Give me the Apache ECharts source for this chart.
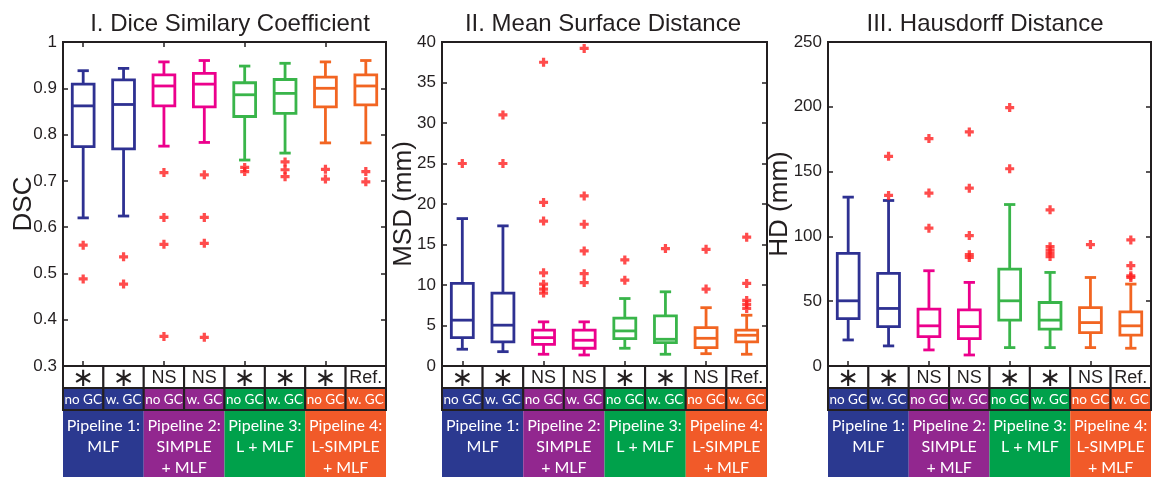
<!DOCTYPE html>
<html>
<head>
<meta charset="utf-8">
<script src="https://cdn.jsdelivr.net/npm/echarts@6/dist/echarts.min.js"></script>
<style>
html, body { margin: 0; padding: 0; background: #fff; }
#chart { width: 1153px; height: 477px; }
</style>
</head>
<body>
<div id="chart"></div>
<script>
// 4 pipelines x (no GC, w. GC)
const categories = ['P1 no GC', 'P1 w. GC', 'P2 no GC', 'P2 w. GC', 'P3 no GC', 'P3 w. GC', 'P4 no GC', 'P4 w. GC']
const gcLabels = ['no GC', 'w. GC', 'no GC', 'w. GC', 'no GC', 'w. GC', 'no GC', 'w. GC']
const pipelineLabels = ['Pipeline 1:\nMLF', 'Pipeline 2:\nSIMPLE\n+ MLF', 'Pipeline 3:\nL + MLF', 'Pipeline 4:\nL-SIMPLE\n+ MLF']

const dscSig = ['∗', '∗', 'NS', 'NS', '∗', '∗', '∗', 'Ref.']
const msdSig = ['∗', '∗', 'NS', 'NS', '∗', '∗', 'NS', 'Ref.']
const hdSig = ['∗', '∗', 'NS', 'NS', '∗', '∗', 'NS', 'Ref.']

// box stats: [lower whisker, Q1, median, Q3, upper whisker]
const dscBoxes = [
  [0.620, 0.774, 0.862, 0.909, 0.938],
  [0.624, 0.769, 0.865, 0.918, 0.943],
  [0.775, 0.862, 0.905, 0.929, 0.957],
  [0.783, 0.860, 0.909, 0.932, 0.960],
  [0.745, 0.839, 0.886, 0.912, 0.948],
  [0.760, 0.846, 0.889, 0.919, 0.954],
  [0.782, 0.860, 0.900, 0.924, 0.957],
  [0.782, 0.864, 0.905, 0.929, 0.960]
]
const dscOutliers = [
  [0.561, 0.488],
  [0.536, 0.477],
  [0.718, 0.621, 0.563, 0.364],
  [0.713, 0.621, 0.565, 0.362],
  [0.729, 0.720],
  [0.741, 0.724, 0.709],
  [0.725, 0.704],
  [0.720, 0.698]
]

const msdBoxes = [
  [2.07, 3.50, 5.66, 10.2, 18.2],
  [1.77, 2.97, 5.04, 9.00, 17.3],
  [1.45, 2.68, 3.50, 4.42, 5.45],
  [1.36, 2.19, 3.18, 4.42, 5.45],
  [2.19, 3.38, 4.33, 5.90, 8.33],
  [1.45, 2.89, 3.30, 6.19, 9.16],
  [1.52, 2.27, 3.42, 4.74, 7.20],
  [1.45, 2.97, 3.80, 4.42, 6.27]
]
const msdOutliers = [
  [25.0],
  [25.0, 31.0],
  [37.5, 20.2, 17.9, 11.5, 10.1, 9.5, 9.0],
  [39.2, 21.0, 17.5, 14.2, 11.4, 10.3],
  [13.1, 10.6],
  [14.5],
  [14.4, 9.5],
  [15.9, 10.2, 8.1, 7.6, 7.1]
]

const hdBoxes = [
  [20.1, 36.6, 50.3, 86.9, 130.3],
  [15.5, 30.4, 44.4, 71.4, 127.7],
  [12.4, 22.7, 31.0, 43.9, 73.5],
  [8.5, 21.1, 30.4, 43.3, 64.5],
  [14.2, 35.4, 50.3, 74.8, 124.6],
  [14.2, 28.4, 35.4, 49.0, 72.2],
  [14.2, 25.8, 33.5, 45.1, 68.3],
  [13.7, 23.8, 31.0, 41.8, 63.2]
]
const hdOutliers = [
  [],
  [161.8, 131.6],
  [175.5, 133.4, 106.3],
  [180.6, 137.2, 100.6, 85.9, 83.8],
  [199.4, 152.2],
  [120.5, 92.1, 89.5, 86.9, 84.4],
  [93.7],
  [97.3, 77.4, 69.6, 68.3]
]

const boxColors = ['#2E3192', '#EC008C', '#39B54A', '#F26522']
const tableColors = ['#2B3990', '#92278F', '#00A14B', '#F15A29']
const ink = '#231F20'

const panels = [
  { title: 'I. Dice Similary Coefficient', yName: 'DSC', nameGap: 26, min: 0.3, max: 1, interval: 0.1, boxes: dscBoxes, outliers: dscOutliers, sig: dscSig, left: 63, width: 323, titleX: 225 },
  { title: 'II. Mean Surface Distance', yName: 'MSD (mm)', nameGap: 25, min: 0, max: 40, interval: 5, boxes: msdBoxes, outliers: msdOutliers, sig: msdSig, left: 442, width: 325, titleX: 598 },
  { title: 'III. Hausdorff Distance', yName: 'HD (mm)', nameGap: 35, min: 0, max: 250, interval: 50, boxes: hdBoxes, outliers: hdOutliers, sig: hdSig, left: 828, width: 323, titleX: 980 }
]

const PLOT_TOP = 42, PLOT_H = 324
const TABLE_TOP = 366, TABLE_H = 111
const SIG_ROW = [0, 22], GC_ROW = [22, 44], PIPE_ROW = [45, 120]

function renderBox (params, api) {
  const i = api.value(0)
  const bw = api.size([1, 0])[0]
  const half = bw * 0.27, cap = bw * 0.14
  const x = api.coord([i, 0])[0]
  const y = [1, 2, 3, 4, 5].map(k => api.coord([i, api.value(k)])[1])
  const [lo, q1, med, q3, hi] = y
  const color = boxColors[Math.floor(i / 2)]
  const style = { stroke: color, lineWidth: 2.8, fill: null }
  return {
    type: 'group',
    children: [
      { type: 'rect', shape: { x: x - half, y: q3, width: 2 * half, height: q1 - q3 }, style: { stroke: color, lineWidth: 2.8, fill: 'rgba(0,0,0,0)' } },
      { type: 'line', shape: { x1: x - half, y1: med, x2: x + half, y2: med }, style },
      { type: 'line', shape: { x1: x, y1: q3, x2: x, y2: hi }, style },
      { type: 'line', shape: { x1: x, y1: q1, x2: x, y2: lo }, style },
      { type: 'line', shape: { x1: x - cap, y1: hi, x2: x + cap, y2: hi }, style },
      { type: 'line', shape: { x1: x - cap, y1: lo, x2: x + cap, y2: lo }, style }
    ]
  }
}

function cellRect (api, c0, c1, row) {
  const bw = api.size([1, 0])[0]
  const x0 = api.coord([c0, row[0]])[0] - bw / 2
  const x1 = api.coord([c1, row[0]])[0] + bw / 2
  const y0 = api.coord([c0, row[0]])[1]
  const y1 = api.coord([c0, row[1]])[1]
  return { x: x0, y: y0, width: x1 - x0, height: y1 - y0 }
}

function makeTable (sig) {
  return function (params, api) {
    const children = []
    sig.forEach((t, i) => {
      const r = cellRect(api, i, i, SIG_ROW)
      children.push({ type: 'rect', shape: r, style: { fill: '#fff', stroke: ink, lineWidth: 2 } })
      const star = t === '∗'
      children.push({
        type: 'text', x: r.x + r.width / 2, y: r.y + r.height / 2 + (star ? 2 : 1),
        style: { text: t, fill: ink, align: 'center', verticalAlign: 'middle',
          fontSize: star ? 26 : 18, fontFamily: star ? 'DejaVu Sans' : 'Liberation Sans' }
      })
    })
    gcLabels.forEach((t, i) => {
      const r = cellRect(api, i, i, GC_ROW)
      children.push({ type: 'rect', shape: r, style: { fill: tableColors[Math.floor(i / 2)], stroke: ink, lineWidth: 2 } })
      children.push({
        type: 'text', x: r.x + r.width / 2, y: r.y + r.height / 2 + 1,
        style: { text: t, fill: '#fff', align: 'center', verticalAlign: 'middle', fontSize: 13.5, fontFamily: 'Lato' }
      })
    })
    pipelineLabels.forEach((t, p) => {
      const r = cellRect(api, p * 2, p * 2 + 1, PIPE_ROW)
      children.push({ type: 'rect', shape: r, style: { fill: tableColors[p] } })
      children.push({
        type: 'text', x: r.x + r.width / 2, y: r.y + 4,
        style: { text: t, fill: '#fff', align: 'center', verticalAlign: 'top', fontSize: 16, lineHeight: 21, fontFamily: 'Lato' }
      })
    })
    return { type: 'group', children }
  }
}

const plusSymbol = 'path://M3.2,0H6.8V3.2H10V6.8H6.8V10H3.2V6.8H0V3.2H3.2Z'

const option = {
  animation: false,
  title: [],
  grid: [],
  xAxis: [],
  yAxis: [],
  series: []
}

panels.forEach((p, k) => {
  option.title.push({
    text: p.title, left: p.titleX, top: 7, textAlign: 'center',
    textStyle: { fontSize: 24, fontWeight: 'normal', color: ink, fontFamily: 'Liberation Sans' }
  })
  option.grid.push({ left: p.left, width: p.width, top: PLOT_TOP, height: PLOT_H, show: true, borderColor: ink, borderWidth: 2, backgroundColor: '#fff' })
  option.grid.push({ left: p.left, width: p.width, top: TABLE_TOP, height: TABLE_H })
  const g = k * 2
  const tickX = { show: true, inside: true, alignWithLabel: true, length: 5, lineStyle: { color: ink, width: 1.5 } }
  const tickY = { show: true, inside: true, length: 5, lineStyle: { color: ink, width: 1.5 } }
  option.xAxis.push(
    { gridIndex: g, type: 'category', data: categories, boundaryGap: true, axisLine: { show: false }, axisTick: tickX, axisLabel: { show: false } },
    { gridIndex: g, type: 'category', position: 'top', data: categories, boundaryGap: true, axisLine: { show: false }, axisTick: tickX, axisLabel: { show: false } },
    { gridIndex: g + 1, type: 'category', data: categories, boundaryGap: true, show: false }
  )
  option.yAxis.push(
    {
      gridIndex: g, type: 'value', min: p.min, max: p.max, interval: p.interval,
      name: p.yName, nameLocation: 'middle', nameGap: p.nameGap, nameMoveOverlap: false,
      nameTextStyle: { fontSize: 26, color: ink, fontFamily: 'Liberation Sans' },
      axisLine: { show: false }, splitLine: { show: false }, axisTick: tickY,
      axisLabel: { fontSize: 17, color: ink, fontFamily: 'Liberation Sans', margin: 6, formatter: v => String(+v.toFixed(1)) }
    },
    { gridIndex: g, type: 'value', position: 'right', min: p.min, max: p.max, interval: p.interval, axisLine: { show: false }, splitLine: { show: false }, axisTick: tickY, axisLabel: { show: false } },
    { gridIndex: g + 1, type: 'value', min: 0, max: TABLE_H, inverse: true, show: false }
  )
  const xa = k * 3, ya = k * 3
  option.series.push({
    type: 'custom', xAxisIndex: xa, yAxisIndex: ya, renderItem: renderBox,
    encode: { x: 0, y: [1, 2, 3, 4, 5] },
    data: p.boxes.map((b, i) => [i, ...b]), z: 3
  })
  const pts = []
  p.outliers.forEach((list, i) => list.forEach(v => pts.push([i, v])))
  option.series.push({
    type: 'scatter', xAxisIndex: xa, yAxisIndex: ya, data: pts,
    symbol: plusSymbol, symbolSize: 9, itemStyle: { color: '#FF1F1F' }, z: 4
  })
  option.series.push({
    type: 'custom', xAxisIndex: xa + 2, yAxisIndex: ya + 2, renderItem: makeTable(p.sig),
    data: [[0, 0]], clip: false, z: 5
  })
})

const chart = echarts.init(document.getElementById('chart'))
chart.setOption(option)
</script>
</body>
</html>
